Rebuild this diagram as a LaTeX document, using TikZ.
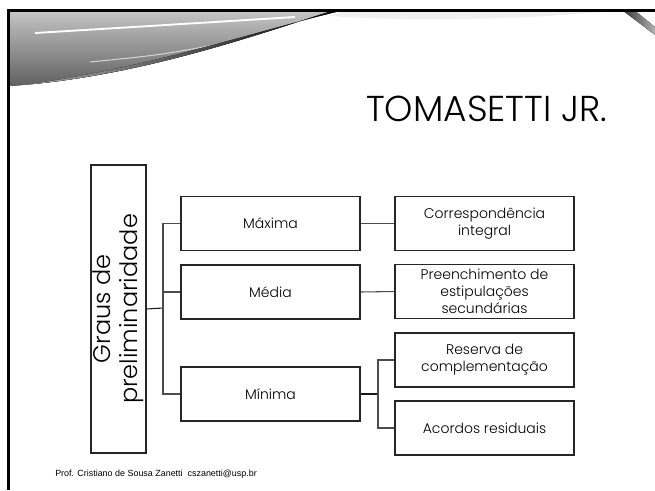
\documentclass[tikz,border=0pt]{standalone}
\usepackage{fontspec}
\setmainfont{Poppins Light}
\newfontfamily\rodape{Liberation Sans}
\begin{document}
\begin{tikzpicture}[x=0.75pt, y=-0.75pt,
    caixa/.style={draw=black!85, line width=0.8pt, minimum width=134.25pt, minimum height=40.5pt, inner sep=1pt, align=center, font=\fontsize{10.5}{12.8}\selectfont},
    linha/.style={draw=black!70, line width=0.8pt}]
  \useasboundingbox (0,0) rectangle (655,490);
  % faixa do topo
  \fill[top color=gray!45, bottom color=gray!75!black] (8,10) -- (335,10) .. controls (270,30) and (140,78) .. (8,86) -- cycle;
  \draw[white, line width=1.4pt] (35,33) .. controls (150,26) .. (295,17);
  \draw[gray!35, line width=0.8pt] (90,62) .. controls (160,55) .. (225,43);
  \fill[left color=gray!60, right color=black] (8,86) .. controls (140,78) and (270,30) .. (335,10) -- (345,10) .. controls (280,24) and (150,68) .. (30,84) -- cycle;
  \fill[gray!12] (345,10) -- (625,10) .. controls (520,20) and (420,22) .. (330,16) -- cycle;
  \fill[left color=black!80, right color=gray!60] (622,10) -- (634,10) -- (655,27) -- (655,35) -- cycle;
  \draw[line width=2.25pt] (8,490) -- (8,10) -- (655,10);
  % titulo
  \node[anchor=base west, inner sep=0pt, font=\fontsize{27}{30}\selectfont] (titulo) at (366,121) {TOMASETTI JR.};
  % caixas
  \node[caixa, rotate=90, minimum width=216pt, minimum height=41.25pt, font=\fontsize{18}{20}\selectfont] (raiz) at (118.5,309) {Graus de\\preliminaridade};
  \node[caixa] (maxima) at (270.5,223.5) {Máxima};
  \node[caixa] (media) at (270.5,292) {Média};
  \node[caixa] (minima) at (270.5,394) {Mínima};
  \node[caixa] (corresp) at (484.5,223.5) {Correspondência\\integral};
  \node[caixa] (preench) at (484.5,291.5) {Preenchimento de\\estipulações\\secundárias};
  \node[caixa] (reserva) at (484.5,360) {Reserva de\\complementação};
  \node[caixa] (acordos) at (484.5,428) {Acordos residuais};
  \coordinate (tronco) at (163,308);
  \coordinate (ramo) at (378,394);
  % ligacoes
  \draw[linha, draw=black!90] (raiz.south) -- (tronco);
  \draw[linha] (maxima.west) -| (tronco) |- (minima.west);
  \draw[linha] (tronco) |- (media.west);
  \draw[linha] (maxima.east) -- (corresp.west);
  \draw[linha] (media.east) -- (preench.west);
  \draw[linha, draw=black!90] (minima.east) -- (ramo);
  \draw[linha] (reserva.west) -| (ramo) |- (acordos.west);
  % rodape
  \node[anchor=base west, inner sep=0pt, font=\rodape\fontsize{6.7}{8}\selectfont] (autor) at (55,476) {Prof. Cristiano de Sousa Zanetti\ \ cszanetti@usp.br};
\end{tikzpicture}
\end{document}
